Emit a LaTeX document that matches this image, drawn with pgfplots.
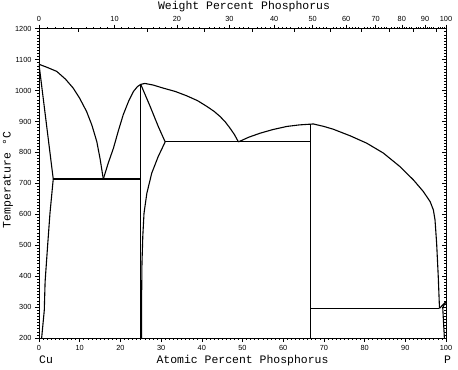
\documentclass[border=0pt]{standalone}
\usepackage{fontspec}
\setmainfont{Liberation Mono}
\newfontfamily\tickfont{Liberation Sans}
\usepackage{pgfplots}
\pgfplotsset{compat=1.18}
\begin{document}
\begin{tikzpicture}
\useasboundingbox (-39bp,-32bp) rectangle (419bp,338bp);
\pgfplotsset{
  common/.style={at={(0,0)}, anchor=south west, scale only axis,
    width=407bp, height=309.3bp, xmin=0, xmax=100, ymin=200, ymax=1200,
    ticklabel style={font=\tickfont\fontsize{7.4}{8}\selectfont},
    /pgf/number format/assume math mode=true,
    /pgf/number format/1000 sep={},
    axis line style={line width=0.8bp},
    every tick/.style={black, line width=0.6bp},
    major tick length=4bp, minor tick length=1.6bp},
  pl/.style={black, solid, line width=1.1bp, no marks},
}
\begin{axis}[common,
  xtick={0,10,...,100}, ytick={200,300,...,1200},
  minor x tick num=9, minor y tick num=9,
  xtick pos=bottom, ytick pos=left, tick align=outside]
% Cu liquidus
\addplot[pl] coordinates {(0,1085) (2,1075) (4.35,1062) (6.5,1037) (8.4,1008) (10,975) (11.7,932) (13,888) (14.2,835) (15,780) (15.8,714)};
% Cu solidus
\addplot[pl] coordinates {(0,1085) (3.5,714)};
% Cu solvus
\addplot[pl] coordinates {(3.5,714) (2.7,604) (2.1,495) (1.5,382) (1.3,290) (0.65,200)};
% eutectic 714
\addplot[pl] coordinates {(3.5,714) (25,714)};
% Cu3P left boundary
\addplot[pl] coordinates {(25,200) (25,1021)};
% Cu3P liquidus
\addplot[pl] coordinates {(15.8,714) (17,765) (18.3,814) (19.5,870) (20.7,922) (22,965) (23.2,997) (24.2,1013) (25,1020) (26,1023) (28,1018) (30.5,1008) (33.5,997) (36.3,983) (39,967) (41.2,949) (43,933) (44.5,916) (45.8,898) (46.9,879) (48,858) (49,834)};
% Cu3P right solidus
\addplot[pl] coordinates {(25,1020) (27.3,949) (29.3,884) (31,834)};
% Cu3P right solvus
\addplot[pl] coordinates {(31,834) (29.3,787) (27.7,733) (26.5,668) (25.8,603) (25.5,528) (25.3,442) (25.2,312) (25.2,200)};
% eutectic 833
\addplot[pl] coordinates {(31,834) (66.8,834)};
% CuP2
\addplot[pl] coordinates {(66.8,200) (66.8,891)};
% CuP2 liquidus
\addplot[pl] coordinates {(49,834) (51.5,849) (54.3,862) (57.5,874) (60.9,884) (64,889) (67.4,892) (70,884) (72.3,875) (76.4,854) (80.5,830) (84.6,798) (88.7,754) (92,711) (94.4,674) (96.1,641) (96.9,614) (97.3,582) (97.7,506) (98.1,398) (98.4,296)};
% horizontal 296
\addplot[pl] coordinates {(66.8,296) (98.4,296)};
% P side
\addplot[pl] coordinates {(98.4,296) (99.9,316)};
\addplot[pl] coordinates {(99.2,298) (99.9,316)};
\addplot[pl] coordinates {(99.2,298) (99.6,200)};
\end{axis}
% top axis: weight percent
\begin{axis}[common, tick align=outside,
  xtick pos=top, xticklabel pos=top, ytick=\empty,
  xtick={0,18.567,33.906,46.792,57.770,67.235,75.478,82.723,89.140,94.863,100},
  xticklabels={0,10,20,30,40,50,60,70,80,90,100},
  minor xtick={2.031,4.019,5.968,7.877,11.581,13.379,15.142,16.871,20.231,21.864,23.467,25.040,28.102,29.592,31.055,32.493,35.295,36.659,38.001,39.321,41.893,43.148,44.383,45.597,47.968,49.126,50.266,51.388,53.580,54.651,55.707,56.746,58.779,59.774,60.754,61.720,63.610,64.535,65.448,66.347,68.110,68.973,69.825,70.665,72.312,73.119,73.916,74.702,76.245,77.001,77.748,78.486,79.933,80.643,81.345,82.038,83.399,84.068,84.728,85.381,86.663,87.293,87.916,88.531,89.742,90.337,90.926,91.507,92.650,93.212,93.768,94.318,95.401,95.934,96.462,96.984,98.010,98.515,99.015,99.510},
  extra x ticks={9.747,26.585,40.618,52.492,62.671,71.494,79.214,86.026,92.081,97.499},
  extra x tick labels={},
  extra x tick style={tick align=inside, major tick length=3bp}]
\end{axis}
% right axis ticks
\begin{axis}[common, tick align=inside,
  xtick=\empty, ytick pos=right, ytick={200,300,...,1200}, yticklabels={},
  minor y tick num=9]
\end{axis}
\node[anchor=base, inner sep=0pt, font=\fontsize{11.5}{12}\selectfont] at (205bp,328bp) {Weight Percent Phosphorus};
\node[anchor=base, inner sep=0pt, font=\fontsize{11.5}{12}\selectfont] at (203.5bp,-25.5bp) {Atomic Percent Phosphorus};
\node[anchor=base west, inner sep=0pt, font=\fontsize{11.5}{12}\selectfont] at (0bp,-25.5bp) {Cu};
\node[anchor=base, inner sep=0pt, font=\fontsize{11.5}{12}\selectfont] at (408.5bp,-25.5bp) {P};
\node[rotate=90, inner sep=0pt, font=\fontsize{11.5}{12}\selectfont] at (-31bp,158bp) {Temperature °C};
\end{tikzpicture}
\end{document}
